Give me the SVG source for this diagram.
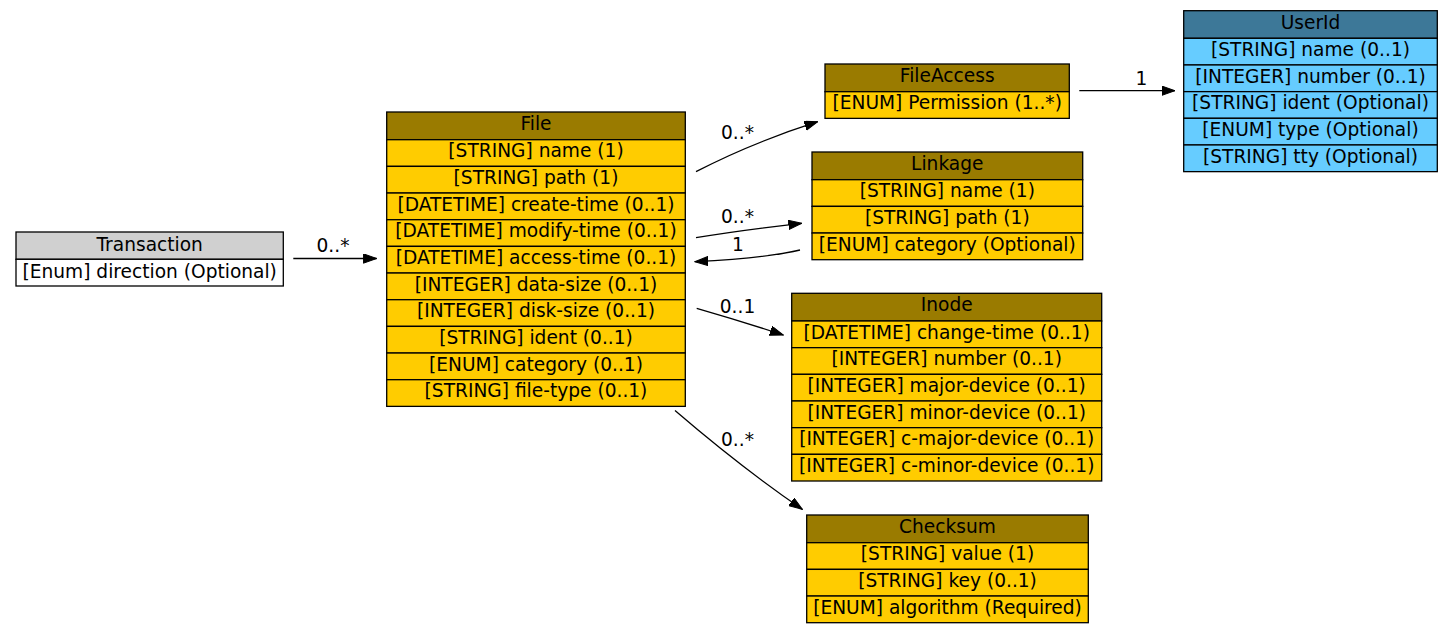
<svg xmlns="http://www.w3.org/2000/svg" width="1453" height="632" viewBox="0 0 1453 632">
<style>
text{font-family:"DejaVu Sans","Liberation Sans",sans-serif;font-size:18.6px;fill:#000;text-anchor:middle}
.hd{fill:#9a7b00;stroke:#000;stroke-width:1.3}
.rw{fill:#ffcc00;stroke:#000;stroke-width:1.3}
.uh{fill:#3d7898;stroke:#000;stroke-width:1.3}
.ur{fill:#66ccff;stroke:#000;stroke-width:1.3}
.th{fill:#d0d0d0;stroke:#000;stroke-width:1.3}
.tr{fill:#ffffff;stroke:#000;stroke-width:1.3}
.e{fill:none;stroke:#000;stroke-width:1.3}
</style>
<defs>
<marker id="ah" markerUnits="userSpaceOnUse" markerWidth="14" markerHeight="10" refX="13.3" refY="4.7" orient="auto" viewBox="0 0 14 10">
<path d="M0,0 L13.3,4.7 L0,9.4 z" fill="#000" stroke="#000" stroke-width="1"/>
</marker>
</defs>
<rect width="1453" height="632" fill="#fff"/>

<g id="Transaction">
<rect class="th" x="16" y="232" width="267.3" height="27.3"/>
<rect class="tr" x="16" y="259.3" width="267.3" height="26.7"/>
<text x="149.7" y="250.5">Transaction</text>
<text x="149.7" y="277.5">[Enum] direction (Optional)</text>
</g>

<g id="File">
<rect class="hd" x="386.7" y="112" width="298.6" height="27.7"/>
<rect class="rw" x="386.7" y="139.7" width="298.6" height="26.67"/>
<rect class="rw" x="386.7" y="166.37" width="298.6" height="26.67"/>
<rect class="rw" x="386.7" y="193.03" width="298.6" height="26.67"/>
<rect class="rw" x="386.7" y="219.7" width="298.6" height="26.67"/>
<rect class="rw" x="386.7" y="246.37" width="298.6" height="26.67"/>
<rect class="rw" x="386.7" y="273.03" width="298.6" height="26.67"/>
<rect class="rw" x="386.7" y="299.7" width="298.6" height="26.67"/>
<rect class="rw" x="386.7" y="326.37" width="298.6" height="26.67"/>
<rect class="rw" x="386.7" y="353.03" width="298.6" height="26.67"/>
<rect class="rw" x="386.7" y="379.7" width="298.6" height="26.67"/>
<text x="536" y="130">File</text>
<text x="536" y="157.3">[STRING] name (1)</text>
<text x="536" y="184">[STRING] path (1)</text>
<text x="536" y="210.7">[DATETIME] create-time (0..1)</text>
<text x="536" y="237.3">[DATETIME] modify-time (0..1)</text>
<text x="536" y="264">[DATETIME] access-time (0..1)</text>
<text x="536" y="290.7">[INTEGER] data-size (0..1)</text>
<text x="536" y="317.3">[INTEGER] disk-size (0..1)</text>
<text x="536" y="344">[STRING] ident (0..1)</text>
<text x="536" y="370.7">[ENUM] category (0..1)</text>
<text x="536" y="397.3">[STRING] file-type (0..1)</text>
</g>

<g id="FileAccess">
<rect class="hd" x="825" y="64" width="244.3" height="27.7"/>
<rect class="rw" x="825" y="91.7" width="244.3" height="26.67"/>
<text x="947.2" y="82">FileAccess</text>
<text x="947.2" y="109.3">[ENUM] Permission (1..*)</text>
</g>

<g id="UserId">
<rect class="uh" x="1183.7" y="10.7" width="253.6" height="27.6"/>
<rect class="ur" x="1183.7" y="38.3" width="253.6" height="26.67"/>
<rect class="ur" x="1183.7" y="64.97" width="253.6" height="26.67"/>
<rect class="ur" x="1183.7" y="91.63" width="253.6" height="26.67"/>
<rect class="ur" x="1183.7" y="118.3" width="253.6" height="26.67"/>
<rect class="ur" x="1183.7" y="144.97" width="253.6" height="26.67"/>
<text x="1310.5" y="28.7">UserId</text>
<text x="1310.5" y="56">[STRING] name (0..1)</text>
<text x="1310.5" y="82.6">[INTEGER] number (0..1)</text>
<text x="1310.5" y="109.3">[STRING] ident (Optional)</text>
<text x="1310.5" y="136">[ENUM] type (Optional)</text>
<text x="1310.5" y="162.6">[STRING] tty (Optional)</text>
</g>

<g id="Linkage">
<rect class="hd" x="812" y="152" width="270.7" height="27.7"/>
<rect class="rw" x="812" y="179.7" width="270.7" height="26.67"/>
<rect class="rw" x="812" y="206.37" width="270.7" height="26.67"/>
<rect class="rw" x="812" y="233.03" width="270.7" height="26.67"/>
<text x="947.3" y="170">Linkage</text>
<text x="947.3" y="197.3">[STRING] name (1)</text>
<text x="947.3" y="224">[STRING] path (1)</text>
<text x="947.3" y="250.7">[ENUM] category (Optional)</text>
</g>

<g id="Inode">
<rect class="hd" x="791.7" y="293.3" width="310" height="27.7"/>
<rect class="rw" x="791.7" y="321" width="310" height="26.67"/>
<rect class="rw" x="791.7" y="347.67" width="310" height="26.67"/>
<rect class="rw" x="791.7" y="374.33" width="310" height="26.67"/>
<rect class="rw" x="791.7" y="401" width="310" height="26.67"/>
<rect class="rw" x="791.7" y="427.67" width="310" height="26.67"/>
<rect class="rw" x="791.7" y="454.33" width="310" height="26.67"/>
<text x="946.7" y="311.3">Inode</text>
<text x="946.7" y="338.6">[DATETIME] change-time (0..1)</text>
<text x="946.7" y="365.3">[INTEGER] number (0..1)</text>
<text x="946.7" y="392">[INTEGER] major-device (0..1)</text>
<text x="946.7" y="418.6">[INTEGER] minor-device (0..1)</text>
<text x="946.7" y="445.3">[INTEGER] c-major-device (0..1)</text>
<text x="946.7" y="472">[INTEGER] c-minor-device (0..1)</text>
</g>

<g id="Checksum">
<rect class="hd" x="806.7" y="515" width="281.6" height="27.7"/>
<rect class="rw" x="806.7" y="542.7" width="281.6" height="26.67"/>
<rect class="rw" x="806.7" y="569.37" width="281.6" height="26.67"/>
<rect class="rw" x="806.7" y="596.03" width="281.6" height="26.67"/>
<text x="947.5" y="533">Checksum</text>
<text x="947.5" y="560.3">[STRING] value (1)</text>
<text x="947.5" y="587">[STRING] key (0..1)</text>
<text x="947.5" y="613.7">[ENUM] algorithm (Required)</text>
</g>

<g id="connectors">
<path class="e" d="M293.3,258.5 L376.7,258.5" marker-end="url(#ah)"/>
<text x="333" y="251.7">0..*</text>
<path class="e" d="M696,171.7 C730,154 770,137 817.7,121.7" marker-end="url(#ah)"/>
<text x="737.5" y="139">0..*</text>
<path class="e" d="M696,237.7 C730,232 765,227.5 801.7,223.3" marker-end="url(#ah)"/>
<text x="737.5" y="223.3">0..*</text>
<path class="e" d="M800,250 C770,257 730,260 695,261.7" marker-end="url(#ah)"/>
<text x="737.8" y="251">1</text>
<path class="e" d="M1079.3,90.7 L1175,90.7" marker-end="url(#ah)"/>
<text x="1141.3" y="85">1</text>
<path class="e" d="M696.7,308.3 C720,315 750,324 783.3,335" marker-end="url(#ah)"/>
<text x="737.5" y="313.3">0..1</text>
<path class="e" d="M675,410.5 C700,432 745,470 802.3,509.3" marker-end="url(#ah)"/>
<text x="737.5" y="445.7">0..*</text>
</g>
</svg>
